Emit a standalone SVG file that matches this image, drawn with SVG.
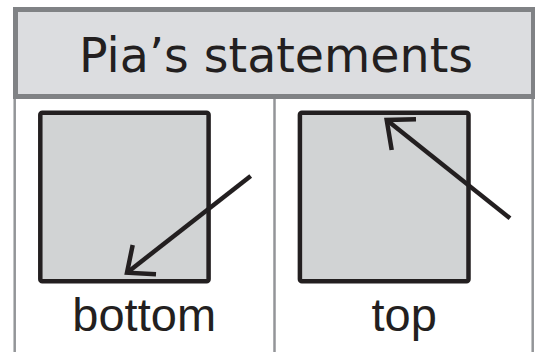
<svg xmlns="http://www.w3.org/2000/svg" width="535" height="352" viewBox="0 0 535 352">
<style>
.lbl{font-family:"Liberation Sans",Arial,sans-serif;fill:#231f20}
.ttl{font-family:"DejaVu Sans","Liberation Sans",sans-serif;fill:#231f20}
.grid{stroke:#939598;stroke-width:2.5;fill:none}
.sq{fill:#d1d3d4;stroke:#231f20;stroke-width:4.5}
.arr{stroke:#231f20;stroke-width:4.5;fill:none;stroke-linecap:butt;stroke-linejoin:miter}
</style>
<rect width="535" height="352" fill="#ffffff"/>
<g id="table">
<line class="grid" x1="14.7" y1="97" x2="14.7" y2="352"/>
<line class="grid" x1="274.5" y1="97" x2="274.5" y2="352"/>
<line class="grid" x1="532.7" y1="97" x2="532.7" y2="352"/>
</g>
<g id="header">
<rect x="15.5" y="9.5" width="518" height="87" fill="#dcdde0" stroke="#808285" stroke-width="5"/>
<text class="ttl" x="79" y="72.3" font-size="47.5" textLength="394" lengthAdjust="spacing">Pia’s statements</text>
</g>
<g id="node-bottom">
<rect class="sq" x="40.3" y="112.8" width="168.3" height="168.4" rx="2"/>
<text class="lbl" x="144.2" y="331" font-size="47" text-anchor="middle">bottom</text>
</g>
<g id="node-top">
<rect class="sq" x="299.9" y="112.8" width="168.6" height="168.4" rx="2"/>
<text class="lbl" x="404.2" y="331" font-size="47" text-anchor="middle">top</text>
</g>
<g id="connectors">
<line class="arr" x1="250.7" y1="176" x2="127" y2="272.7"/>
<polyline class="arr" points="132.7,245 127,272.7 156,274.3"/>
<line class="arr" x1="510" y1="218.3" x2="386.7" y2="120"/>
<polyline class="arr" points="391.7,150 386.7,120 416,119.3"/>
</g>
</svg>
